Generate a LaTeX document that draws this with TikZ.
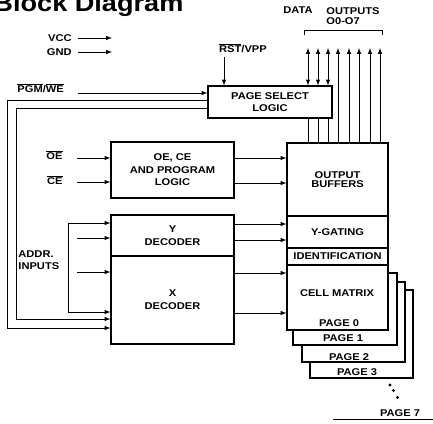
\documentclass[tikz,border=0pt]{standalone}
\usepackage{fontspec}
\setmainfont{Liberation Sans}[FakeStretch=1.13]
\usetikzlibrary{positioning}

\newcommand{\ovln}[1]{$\overline{\mbox{#1}}$}

\tikzset{
  txt/.style={font=\fontsize{8.4}{10}\bfseries\selectfont, inner sep=0pt, align=center},
  blk/.style={txt, draw, fill=white, line width=0.9pt},
  pagebox/.style={draw, fill=white, line width=0.9pt, inner sep=0pt},
}

\begin{document}
\begin{tikzpicture}[>=latex, x=0.03cm, y=-0.03cm, line width=0.75pt]
    \useasboundingbox (0,0) rectangle (433,423);

    % 1. Title
    \node[anchor=base west, inner sep=0pt, font=\fontsize{20.5}{22}\bfseries\selectfont]
        (title) at (-7,12) {Block Diagram};

    % 2. Memory pages (behind the main stack)
    \draw (333,419) -- (440,419);
    \node[txt] (pg7) at (400,413) {PAGE 7};
    \fill (390,385) circle (1.3pt) (393.5,390.5) circle (1.3pt) (397.5,397.5) circle (1.3pt);
    \node[pagebox, minimum width=3.09cm, minimum height=2.64cm] (pg3) at (361.5,334) {};
    \node[txt] (pg3t) at (357,372) {PAGE 3};
    \node[pagebox, minimum width=3.09cm, minimum height=2.40cm] (pg2) at (353.5,322) {};
    \node[txt] (pg2t) at (349,357) {PAGE 2};
    \node[pagebox, minimum width=3.12cm, minimum height=2.16cm] (pg1) at (345,309) {};
    \node[txt] (pg1t) at (343,338) {PAGE 1};

    % 3. Main blocks
    \node[blk, minimum width=3.72cm, minimum height=0.96cm] (psl) at (270,102) {PAGE SELECT\\LOGIC};
    \node[blk, minimum width=3.69cm, minimum height=1.68cm, font=\fontsize{8.4}{10.6}\bfseries\selectfont]
        (ocl) at (172.5,170) {OE, CE\\AND PROGRAM\\LOGIC};
    \node[blk, minimum width=3.69cm, minimum height=1.23cm, font=\fontsize{8.4}{11.5}\bfseries\selectfont]
        (ydec) at (172.5,235.5) {Y\\DECODER};
    \node[blk, minimum width=3.69cm, minimum height=2.64cm, font=\fontsize{8.4}{11}\bfseries\selectfont]
        (xdec) at (172.5,300) {X\\DECODER};

    \node[blk, minimum width=3.03cm, minimum height=2.19cm, font=\fontsize{8.4}{8}\bfseries\selectfont]
        (obuf) at (337.5,179.5) {OUTPUT\\BUFFERS};
    \node[blk, minimum width=3.03cm, minimum height=0.96cm] (ygate) at (337.5,232) {Y-GATING};
    \node[blk, minimum width=3.03cm, minimum height=0.51cm] (ident) at (337.5,256.5) {IDENTIFICATION};
    \node[blk, minimum width=3.03cm, minimum height=1.95cm] (cmat) at (337.5,297.5) {};
    \node[txt] (cmatt) at (337,293) {CELL MATRIX};
    \node[txt] (pg0t) at (339,323) {PAGE 0};

    % 4. Supply and control inputs
    \node[txt, anchor=east] (vcc) at (72,38) {VCC};
    \node[txt, anchor=east] (gnd) at (72,52) {GND};
    \coordinate (vcc-e) at (112,38);
    \coordinate (gnd-e) at (112,52);
    \draw[->] (vcc.east) ++(6,0) -- (vcc-e);
    \draw[->] (gnd.east) ++(6,0) -- (gnd-e);

    \node[txt, anchor=west] (pgm) at (17,88) {\ovln{PGM}/\ovln{WE}};
    \coordinate (pgm-s) at (78,93);
    \draw[->] (pgm-s) -- (psl.west |- pgm-s);

    \node[txt] (rst) at (243,48) {\ovln{RST}/VPP};
    \coordinate (rst-s) at (224,57);
    \draw[->] (rst-s) -- (rst-s |- psl.north);

    \node[txt, anchor=east] (oe) at (63,155) {\ovln{OE}};
    \node[txt, anchor=east] (ce) at (63,180) {\ovln{CE}};
    \coordinate (oe-s) at (77,158);
    \coordinate (ce-s) at (77,182);
    \draw[->] (oe-s) -- (ocl.west |- oe-s);
    \draw[->] (ce-s) -- (ocl.west |- ce-s);

    % 5. Address inputs
    \node[txt, anchor=west, align=left, font=\fontsize{8.4}{10.2}\bfseries\selectfont] (addr) at (18,260) {ADDR.\\INPUTS};
    \draw[<->] (ydec.west |- 0,223) -| (68,312) -- (xdec.west |- 0,312);
    \draw[->] (77,238) -- (ydec.west |- 0,238);
    \draw[->] (77,272) -- (xdec.west |- 0,272);

    % 6. Page select to X decoder
    \draw[->] (psl.west |- 0,100) -| (7,328) -- (xdec.west |- 0,328);
    \draw[->] (psl.west |- 0,108) -| (16,319) -- (xdec.west |- 0,319);

    % 7. Block to block
    \draw[->] (ocl.east |- 0,158) -- (obuf.west |- 0,158);
    \draw[->] (ocl.east |- 0,183) -- (obuf.west |- 0,183);
    \draw[->] (ydec.east |- 0,224) -- (ygate.west |- 0,224);
    \draw[->] (ydec.east |- 0,240) -- (ygate.west |- 0,240);
    \draw[->] (xdec.east |- 0,273) -- (cmat.west |- 0,273);
    \draw[->] (xdec.east |- 0,313) -- (cmat.west |- 0,313);

    % 8. Data outputs
    \foreach \i/\x in {1/308,2/318,3/328,4/338,5/349,6/359,7/370,8/380}
        \coordinate (d\i) at (\x,48);
    \foreach \i in {1,2,3} {
        \draw[<->] (d\i |- psl.north) -- (d\i);
        \draw (d\i |- psl.south) -- (d\i |- obuf.north);
    }
    \foreach \i in {4,...,8}
        \draw[->] (d\i |- obuf.north) -- (d\i);
    \draw (304,35) -- (304,30) -- (382,30) -- (382,35);
    \node[txt] (data) at (298,10.5) {DATA};
    \node[txt, anchor=west, align=left, font=\fontsize{8.4}{8.5}\bfseries\selectfont] (outs) at (326,16.5) {OUTPUTS\\O0-O7};
\end{tikzpicture}
\end{document}
